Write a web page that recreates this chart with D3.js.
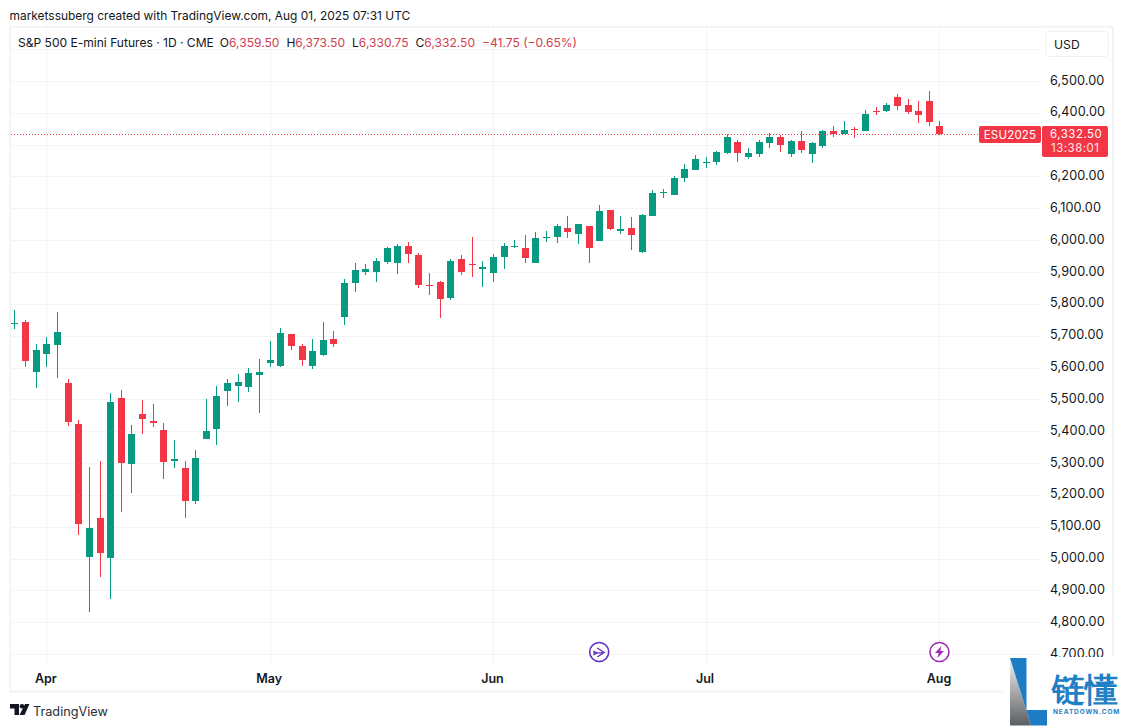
<!DOCTYPE html>
<html><head><meta charset="utf-8">
<script src="https://cdn.jsdelivr.net/npm/d3@7"></script>
<style>
html,body{margin:0;padding:0;background:#fff;width:1123px;height:727px;overflow:hidden}
svg{display:block}
text{font-family:Inter,"Noto Sans",sans-serif}
</style></head><body>
<svg id="c" width="1123" height="727"></svg>
<script>
const opens=[5737,5742.9,5585.8,5642.3,5670.6,5551.2,5422.4,5004.6,5127,5001.4,5504,5296.8,5453.8,5431.9,5403.6,5306.2,5284.2,5180.5,5375.3,5406.7,5526.1,5541.8,5538.6,5576.4,5614,5604.6,5705,5667.4,5604.6,5639.2,5689.4,5758.5,5865.4,5899.9,5899.9,5931.3,5928.2,5981.6,5953.3,5859,5868.5,5818.2,5940.8,5925,5909.3,5896.8,5947,5978.5,5975.3,5928.2,6006.7,6009.9,6038.1,6019.3,6044.4,5997.3,6094.7,6028.7,6038.1,5962.7,6075.8,6147,6141.8,6195.2,6220.3,6244,6245.5,6273.8,6308.3,6261.2,6270.6,6305.2,6324,6270.6,6311.5,6270.6,6295.8,6342.9,6333.5,6349.2,6342.9,6405.7,6405.7,6449.7,6424.6,6405.7,6437.1,6359.5];
const highs=[5780.6,5749,5673.8,5695.7,5774.3,5563.8,5435,5287.3,5306.2,5519.8,5529.2,5419.3,5497.8,5485.3,5425.6,5372.2,5306.2,5340.7,5501,5541.8,5563.8,5579.5,5598.4,5626.6,5683.2,5724,5705,5673.7,5689.4,5742.8,5714.6,5877.9,5928.2,5925,5943.9,5978.5,5987.9,5994.2,5959.6,5896.8,5871.6,5940.8,5953.3,6009.9,5934.5,5956.5,5991,6000.4,6016.1,6025.6,6028.7,6050.7,6075.8,6050.7,6044.4,6110.4,6094.7,6075.8,6072.7,6082,6157.5,6160.7,6201.5,6239.2,6267.5,6261,6280,6333.5,6314.6,6289.5,6314.6,6336.6,6330.3,6314.6,6342.9,6308.3,6346,6358.6,6374.3,6355.4,6408.9,6418.3,6430.8,6459.1,6443.4,6437.1,6468.5,6373.5];
const lows=[5722,5601.5,5535.5,5601.5,5567,5416.1,5073.7,4831.8,4941.8,4872.6,5145.9,5205.6,5391,5413,5249.6,5284.2,5127,5171,5375,5356.5,5479,5491.5,5523,5457,5601.5,5601.5,5654.9,5604.6,5595.2,5636,5664.3,5733.4,5837.1,5890.5,5868.5,5925,5893.6,5928.2,5849.6,5827.7,5755.4,5812,5890.5,5884.2,5852.8,5868.5,5909.3,5975.3,5928.2,5928,5994.2,5991,6006.7,5987.9,5928.2,5997,6031.9,6019.3,5969,5959.6,6075.8,6132.4,6141.8,6182.7,6220.3,6226.6,6236,6270.6,6245.5,6254.9,6261.2,6289.5,6276.9,6261.2,6273.8,6242.3,6289.5,6324,6333.5,6320.9,6342.9,6393.1,6402.6,6408.9,6396.3,6368,6358.6,6330.75];
const closes=[5740,5620.3,5654.9,5673.8,5711.5,5428.7,5108.3,5095.7,5017.2,5491.5,5299.9,5391,5438.1,5425.6,5303,5312.5,5180.5,5315.6,5400.4,5510.4,5551.2,5554.4,5582.6,5585.8,5623.5,5708.3,5667.4,5623.5,5651.7,5686.3,5673.7,5865.4,5906.2,5909.3,5934.5,5975.3,5981.6,5956.5,5859,5855.9,5815,5934.5,5899.9,5921.9,5915.6,5947,5981.6,5981.6,5943.9,6006.7,6009.9,6044.4,6025.6,6050.7,5975.3,6091.5,6035,6035,6016.1,6079,6148.1,6150,6195.2,6223.5,6254.9,6246.5,6276.9,6324,6273.8,6273.8,6308.3,6324,6298.9,6311.5,6283.2,6305.2,6342.9,6333.5,6346,6347,6396.3,6402.6,6424.6,6421.4,6402.6,6393.1,6371.2,6332.5];
const priceTicks=[6600,6500,6400,6300,6200,6100,6000,5900,5800,5700,5600,5500,5400,5300,5200,5100,5000,4900,4800,4700];
const priceLabels=priceTicks.filter(v=>v<6600);
const monthNames=["Apr","May","Jun","Jul","Aug"];
const monthIndex=[3,24,45,65,87];
const lastPrice=6332.5;
const seriesName="ESU2025", lastPriceText="6,332.50", countdown="13:38:01";
const legendName="S&P 500 E-mini Futures · 1D · CME";
const legendOHLC=[["O","6,359.50"],["H","6,373.50"],["L","6,330.75"],["C","6,332.50"]];
const legendChange="−41.75 (−0.65%)";
const headerText="marketssuberg created with TradingView.com, Aug 01, 2025 07:31 UTC";

const UP="#089981",DOWN="#F23645",GRID="#f3f4f6",FRAME="#eff1f4",INK="#131722";
const svg=d3.select("#c");
const x=d3.scaleLinear().domain([0,87]).range([14.45,939.45]);
const y=d3.scaleLinear().domain([4700,6500]).range([654,81]);

// frame
const frame=svg.append("g").attr("fill",FRAME);
frame.append("rect").attr("x",10).attr("y",26).attr("width",1103).attr("height",1.5);
frame.append("rect").attr("x",9.5).attr("y",26).attr("width",1.5).attr("height",666);
frame.append("rect").attr("x",1112).attr("y",26).attr("width",1.5).attr("height",666);
frame.append("rect").attr("x",10).attr("y",690.5).attr("width",1103).attr("height",2);

// grid
const grid=svg.append("g").attr("stroke",GRID).attr("stroke-width",1).attr("shape-rendering","crispEdges");
grid.selectAll("line.h").data(priceTicks).join("line").attr("class","h")
  .attr("x1",11).attr("x2",1040).attr("y1",d=>Math.round(y(d))+.5).attr("y2",d=>Math.round(y(d))+.5);
grid.selectAll("line.v").data(monthIndex).join("line").attr("class","v")
  .attr("y1",27).attr("y2",663).attr("x1",d=>Math.round(x(d))+.5).attr("x2",d=>Math.round(x(d))+.5);

// candles
const idx=d3.range(closes.length);
const col=i=>closes[i]>=opens[i]?UP:DOWN;
const candles=svg.append("g").attr("shape-rendering","crispEdges");
candles.selectAll("rect.w").data(idx).join("rect").attr("class","w")
  .attr("x",i=>Math.round(x(i))).attr("width",1)
  .attr("y",i=>Math.round(y(highs[i]))).attr("height",i=>Math.max(1,Math.round(y(lows[i]))-Math.round(y(highs[i]))))
  .attr("fill",col);
candles.selectAll("rect.b").data(idx).join("rect").attr("class","b")
  .attr("x",i=>Math.round(x(i))-3).attr("width",7)
  .attr("y",i=>Math.round(y(Math.max(opens[i],closes[i]))))
  .attr("height",i=>Math.max(1,Math.round(y(Math.min(opens[i],closes[i])))-Math.round(y(Math.max(opens[i],closes[i])))))
  .attr("fill",col);

// last price line
svg.append("line").attr("x1",11).attr("x2",979).attr("y1",Math.round(y(lastPrice))+.5).attr("y2",Math.round(y(lastPrice))+.5)
  .attr("stroke",DOWN).attr("stroke-width",1).attr("stroke-dasharray","1 2");

// price axis
const yAxis=d3.axisRight(y).tickValues(priceLabels).tickSize(0).tickPadding(0).tickFormat(d3.format(",.2f"));
const gy=svg.append("g").attr("transform","translate(1050,-1)").call(yAxis);
gy.select(".domain").remove();
gy.selectAll("text").attr("fill",INK).attr("font-size",12.7).attr("font-family","Inter,sans-serif").attr("letter-spacing","0.1px");

// time axis
const xAxis=d3.axisBottom(x).tickValues(monthIndex).tickSize(0).tickPadding(0).tickFormat((d,i)=>monthNames[i]);
const gx=svg.append("g").attr("transform","translate(-1,674)").call(xAxis);
gx.select(".domain").remove();
gx.selectAll("text").attr("fill",INK).attr("font-size",12.5).attr("font-weight",600).attr("font-family","Inter,sans-serif");

// header
svg.append("text").attr("x",9.5).attr("y",20).attr("font-size",11.95).attr("fill",INK).text(headerText);
const lg=svg.append("text").attr("x",18).attr("y",47).attr("font-size",12.05).attr("fill",INK);
lg.append("tspan").text(legendName);
legendOHLC.forEach((p,i)=>{
  lg.append("tspan").attr("dx",i?7:6).text(p[0]);
  lg.append("tspan").attr("fill","#d0404f").text(p[1]);
});
lg.append("tspan").attr("dx",7).attr("fill","#d0404f").text(legendChange);

// USD box
svg.append("rect").attr("x",1045.5).attr("y",31.5).attr("width",63).attr("height",25).attr("rx",3.5).attr("fill","#fff").attr("stroke","#eef0f3");
svg.append("text").attr("x",1054).attr("y",48.5).attr("font-size",12.2).attr("fill",INK).text("USD");

// last price tags
svg.append("rect").attr("x",979).attr("y",126).attr("width",62).attr("height",17).attr("rx",2).attr("fill",DOWN);
svg.append("rect").attr("x",1042).attr("y",126).attr("width",66).attr("height",31).attr("rx",2).attr("fill",DOWN);
svg.append("text").attr("x",1010).attr("y",138.5).attr("text-anchor","middle").attr("font-size",11.5).attr("letter-spacing","0.2px").attr("fill","#fff").text(seriesName);
svg.append("text").attr("x",1050).attr("y",137.5).attr("font-size",11.4).attr("letter-spacing","0.55px").attr("fill","#fff").text(lastPriceText);
svg.append("text").attr("x",1051).attr("y",152).attr("font-size",11.4).attr("letter-spacing","0.55px").attr("fill","#ffe3e6").text(countdown);

// event icons
const icon1=svg.append("g").attr("transform",`translate(${x(55)},652)`).attr("fill","none").attr("stroke","#5e2fc4").attr("stroke-width",1.6);
icon1.append("circle").attr("r",9.5).attr("fill","#fff");
icon1.append("path").attr("d","M-6 -1L-2 1L-6 3M-2 -4L5 0.5L-2 5M-6 0.8H5").attr("stroke-width",1.3);
const icon2=svg.append("g").attr("transform",`translate(${x(87)},652)`);
icon2.append("circle").attr("r",9.5).attr("fill","#fff").attr("stroke","#9a2fb0").attr("stroke-width",1.6);
icon2.append("path").attr("d","M2 -6L-4.5 1H-0.8L-2 6L4.5 -1H0.8Z").attr("fill","#9a2fb0");

// TradingView brand
const tv=svg.append("g").attr("transform","translate(10,704)").attr("fill","#131722");
tv.append("path").attr("d","M0 0H9V11H4.5V4.5H0Z");
tv.append("circle").attr("cx",12).attr("cy",2.3).attr("r",2.3);
tv.append("path").attr("d","M15 0H19.5L14.5 11H9.5Z");
svg.append("text").attr("x",33).attr("y",715.5).attr("font-size",12.7).attr("fill","#2a2e39").text("TradingView");

// watermark
const defs=svg.append("defs");
const gr=defs.append("linearGradient").attr("id","lg").attr("x1",0).attr("y1",0).attr("x2",0).attr("y2",1);
gr.append("stop").attr("offset",0).attr("stop-color","#f4f4f4");
gr.append("stop").attr("offset",1).attr("stop-color","#5c5f62");
svg.append("rect").attr("x",1003).attr("y",657).attr("width",120).attr("height",70).attr("fill","#fff");
svg.append("path").attr("d","M1010 658V725.5H1031Z").attr("fill","url(#lg)");
svg.append("path").attr("d","M1010 658H1026.5V710H1047V725.5H1031Z").attr("fill","#1c7cc4");
svg.append("text").attr("x",1052).attr("y",701).attr("font-size",32.5).attr("font-weight",700).attr("fill","#1f80c6")
  .attr("font-family","'Noto Sans CJK SC',sans-serif").text("链懂");
svg.append("text").attr("x",1053).attr("y",714).attr("font-size",6.5).attr("font-weight",700).attr("letter-spacing","0.9px").attr("fill","#1f80c6").text("NEATDOWN.COM");
</script>
</body></html>
